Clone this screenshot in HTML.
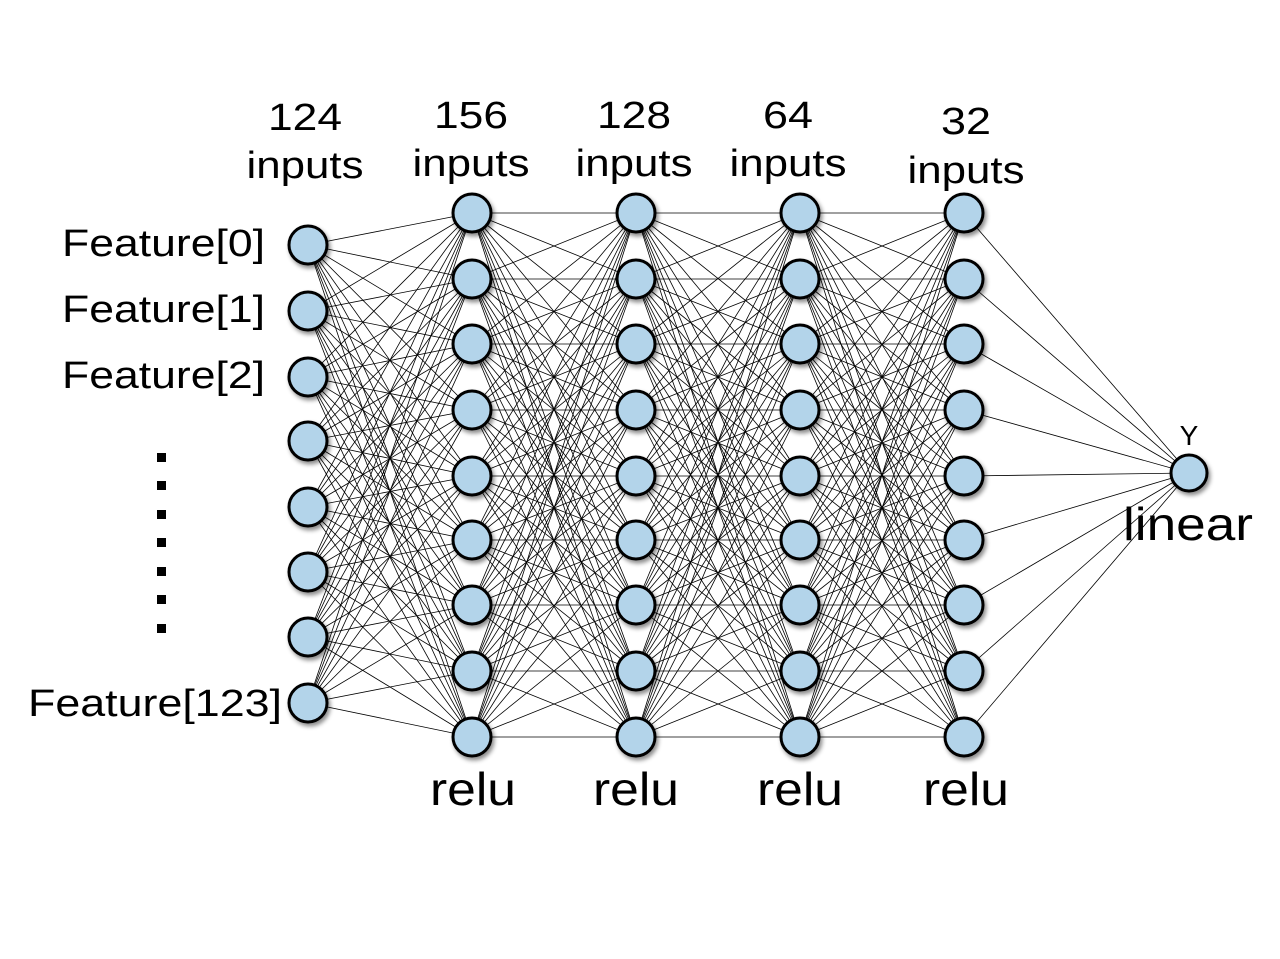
<!DOCTYPE html>
<html><head><meta charset="utf-8"><style>
html,body{margin:0;padding:0;background:#fff;}
svg{display:block;}
text{font-family:"Liberation Sans",sans-serif;fill:#000;}
</style></head><body>
<svg id="s" width="1280" height="959" viewBox="0 0 1280 959" xmlns="http://www.w3.org/2000/svg">
<defs>
<filter id="sh" x="-50%" y="-50%" width="200%" height="200%"><feDropShadow dx="2" dy="3" stdDeviation="2" flood-color="#000" flood-opacity="0.45"/></filter>
</defs>
<g id="lines" stroke="#000" stroke-width="0.8"></g>
<g id="nodes" fill="#b3d4ea" stroke="#000" stroke-width="3" filter="url(#sh)"></g>
<g font-size="38" text-anchor="middle" lengthAdjust="spacingAndGlyphs">
<text x="305" y="130" textLength="74" lengthAdjust="spacingAndGlyphs">124</text><text x="305" y="178" textLength="117" lengthAdjust="spacingAndGlyphs">inputs</text>
<text x="471" y="128" textLength="74" lengthAdjust="spacingAndGlyphs">156</text><text x="471" y="176" textLength="117" lengthAdjust="spacingAndGlyphs">inputs</text>
<text x="634" y="128" textLength="74" lengthAdjust="spacingAndGlyphs">128</text><text x="634" y="176" textLength="117" lengthAdjust="spacingAndGlyphs">inputs</text>
<text x="788" y="128" textLength="50" lengthAdjust="spacingAndGlyphs">64</text><text x="788" y="176" textLength="117" lengthAdjust="spacingAndGlyphs">inputs</text>
<text x="966" y="134" textLength="50" lengthAdjust="spacingAndGlyphs">32</text><text x="966" y="183" textLength="117" lengthAdjust="spacingAndGlyphs">inputs</text>
</g>
<g font-size="38">
<text x="62" y="256" textLength="203" lengthAdjust="spacingAndGlyphs">Feature[0]</text>
<text x="62" y="322" textLength="203" lengthAdjust="spacingAndGlyphs">Feature[1]</text>
<text x="62" y="388" textLength="203" lengthAdjust="spacingAndGlyphs">Feature[2]</text>
<text x="28" y="716" textLength="254" lengthAdjust="spacingAndGlyphs">Feature[123]</text>
</g>
<g fill="#000">
<rect x="157" y="453" width="9" height="9"/><rect x="157" y="481" width="9" height="9"/>
<rect x="157" y="510" width="9" height="9"/><rect x="157" y="538" width="9" height="9"/>
<rect x="157" y="567" width="9" height="9"/><rect x="157" y="595" width="9" height="9"/>
<rect x="157" y="624" width="9" height="9"/>
</g>
<g font-size="46">
<text x="430" y="805" textLength="86" lengthAdjust="spacingAndGlyphs">relu</text>
<text x="593" y="805" textLength="86" lengthAdjust="spacingAndGlyphs">relu</text>
<text x="757" y="805" textLength="86" lengthAdjust="spacingAndGlyphs">relu</text>
<text x="923" y="805" textLength="86" lengthAdjust="spacingAndGlyphs">relu</text>
<text x="1123" y="540" textLength="130" lengthAdjust="spacingAndGlyphs">linear</text>
</g>
<text x="1189" y="445" font-size="28" text-anchor="middle">Y</text>
</svg>
<script>
var NS="http://www.w3.org/2000/svg";
var ys9=[213,279,344,410,476,540,605,671,737];
var layers=[
 {x:308,ys:[245,311,377,441,507,572,637,703]},
 {x:472,ys:ys9},{x:636,ys:ys9},{x:800,ys:ys9},{x:964,ys:ys9},
 {x:1189,ys:[473]}];
var L=document.getElementById("lines"),N=document.getElementById("nodes");
for(var i=0;i<layers.length-1;i++){var a=layers[i],b=layers[i+1];
 a.ys.forEach(function(y1){b.ys.forEach(function(y2){
  var l=document.createElementNS(NS,"line");
  l.setAttribute("x1",a.x);l.setAttribute("y1",y1);l.setAttribute("x2",b.x);l.setAttribute("y2",y2);L.appendChild(l);});});}
layers.forEach(function(ly,i){ly.ys.forEach(function(y){
 var c=document.createElementNS(NS,"circle");c.setAttribute("cx",ly.x);c.setAttribute("cy",y);
 c.setAttribute("r",i==5?18:19);N.appendChild(c);});});
</script>
</body></html>
